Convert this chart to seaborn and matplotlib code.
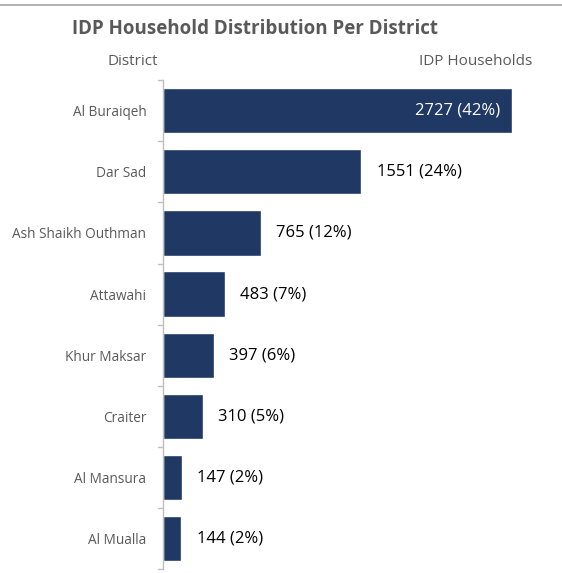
import pandas as pd
import matplotlib
matplotlib.use('Agg')
import matplotlib.pyplot as plt
import seaborn as sns

districts = ['Al Buraiqeh', 'Dar Sad', 'Ash Shaikh Outhman', 'Attawahi',
             'Khur Maksar', 'Craiter', 'Al Mansura', 'Al Mualla']
households = [2727, 1551, 765, 483, 397, 310, 147, 144]
shares = [42, 24, 12, 7, 6, 5, 2, 2]

NAVY = '#1f3864'
GRAY = '#595959'

sns.set_style('white')
plt.rcParams['font.family'] = ['Open Sans', 'DejaVu Sans']

df = pd.DataFrame({'District': districts, 'Households': households})

fig = plt.figure(figsize=(5.62, 5.73), dpi=100)
ax = fig.add_axes([0.290, 0.007, 0.683, 0.853])
sns.barplot(data=df, x='Households', y='District', color=NAVY, width=0.74,
            saturation=1, ax=ax)

ax.set_xlim(0, 3000)
ax.set_ylim(len(districts) - 0.5, -0.5)
ax.set_xlabel('')
ax.set_ylabel('')
ax.set_xticks([])
for s in ['top', 'right', 'bottom']:
    ax.spines[s].set_visible(False)
ax.spines['left'].set_color('#bfbfbf')
ax.spines['left'].set_linewidth(1)

# boundary tick marks between categories
ax.set_yticks(range(len(districts)))
ax.set_yticklabels(districts, fontsize=9.8, color=GRAY)
ax.tick_params(axis='y', length=0, pad=12)
for b in [i - 0.5 for i in range(len(districts) + 1)]:
    ax.plot([-0.012, 0], [b, b], transform=ax.get_yaxis_transform(),
            color='#bfbfbf', lw=1, clip_on=False)

for i, (v, p) in enumerate(zip(households, shares)):
    label = f'{v} ({p}%)'
    if i == 0:
        ax.text(v - 90, i, label, ha='right', va='center', color='white', fontsize=12)
    else:
        ax.text(v + 120, i, label, ha='left', va='center', color='black', fontsize=12)

fig.text(0.454, 0.950, 'IDP Household Distribution Per District', ha='center',
         va='center', fontsize=13.5, fontweight='bold', color=GRAY)
fig.text(0.237, 0.892, 'District', ha='center', va='center', fontsize=11, color=GRAY)
fig.text(0.947, 0.892, 'IDP Households', ha='right', va='center', fontsize=11, color=GRAY)
fig.add_artist(plt.Line2D([0, 1], [0.991, 0.991], color='#a6a6a6', lw=1.2))

fig.savefig('out.png', dpi=100)
